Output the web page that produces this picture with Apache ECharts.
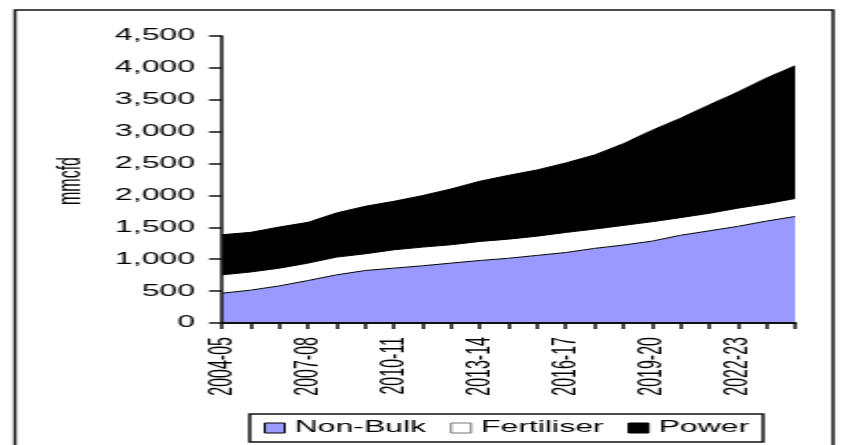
<!DOCTYPE html>
<html>
<head>
<meta charset="utf-8">
<script src="https://cdn.jsdelivr.net/npm/echarts@6/dist/echarts.min.js"></script>
<style>
html,body{margin:0;padding:0;background:#fff;overflow:hidden;}
#wrap{width:841px;height:445px;overflow:hidden;position:relative;}
#chart{width:421px;height:445px;transform-origin:0 0;transform:scaleX(1.99762);position:absolute;left:0;top:0;}
</style>
</head>
<body>
<div id="wrap"><div id="chart"></div></div>
<script>
const categories = ['2004-05','2005-06','2006-07','2007-08','2008-09','2009-10','2010-11','2011-12','2012-13','2013-14','2014-15','2015-16','2016-17','2017-18','2018-19','2019-20','2020-21','2021-22','2022-23','2023-24','2024-25'];
const nonBulk    = [467,515,582,666,755,823,860,897,939,980,1015,1060,1105,1170,1222,1283,1375,1445,1515,1598,1670];
const fertiliser = [288,285,278,273,278,262,288,293,288,299,300,302,315,302,308,304,277,275,285,272,282];
const power      = [629,621,645,639,693,745,760,808,876,944,1000,1038,1090,1163,1280,1433,1558,1700,1820,1970,2081];
const yTicks = {min:0, max:4500, interval:500};
const seriesNames = ['Non-Bulk','Fertiliser','Power'];
const unitLabel = 'mmcfd';

const S = 841/421;
const FONT = 'Liberation Sans, Arial, sans-serif';
const chart = echarts.init(document.getElementById('chart'), null, {renderer:'canvas', width:421, height:445});

const colors = ['#9999FF','#FFFFFF','#000000'];
const legendBorders = ['#000','#777','#000'];
const seriesData = [nonBulk, fertiliser, power];

chart.setOption({
  animation:false,
  backgroundColor:'#fff',
  textStyle:{fontFamily:FONT},
  grid:{left:222/S, right:(841-795)/S, top:36, bottom:122, containLabel:false},
  legend:{
    left:125, top:414,
    padding:[6,7,6,7],
    itemGap:12, itemWidth:10, itemHeight:10,
    icon:'rect',
    borderColor:'#111', borderWidth:1.5,
    textStyle:{fontFamily:FONT, fontSize:16, color:'#000'},
    data:seriesNames.map((n,i)=>({name:n, itemStyle:{color:colors[i], borderColor:legendBorders[i], borderWidth:1}}))
  },
  xAxis:{
    type:'category', data:categories, boundaryGap:false, z:5,
    axisLine:{lineStyle:{color:'#111', width:2}},
    axisTick:{show:true, interval:0, length:6, lineStyle:{color:'#111', width:1.5}},
    axisLabel:{interval:2, rotate:90, margin:14, fontSize:16, color:'#000', fontFamily:FONT},
    splitLine:{show:false}
  },
  yAxis:{
    type:'value', min:yTicks.min, max:yTicks.max, interval:yTicks.interval, z:5,
    axisLine:{show:true, lineStyle:{color:'#111', width:1.5}},
    axisTick:{show:true, length:6.5, lineStyle:{color:'#111', width:1.5}},
    axisLabel:{margin:13.5, fontSize:16, color:'#000', fontFamily:FONT, formatter:v=>v.toLocaleString('en-US')},
    splitLine:{show:false}
  },
  graphic:[
    {type:'rect', shape:{x:7.5, y:10, width:(833-15)/S, height:480}, style:{fill:'none', stroke:'#111', lineWidth:1.5}, z:10, silent:true},
    {type:'text', x:36, y:181, rotation:Math.PI/2, style:{text:unitLabel, fontSize:16, fontFamily:FONT, fill:'#000', align:'center', verticalAlign:'middle'}, z:10}
  ],
  series:seriesNames.map((n,i)=>({
    name:n, type:'line', stack:'total', data:seriesData[i],
    showSymbol:false, symbol:'none',
    lineStyle:{color:'#000', width:1},
    areaStyle:{color:colors[i], opacity:1},
    itemStyle:{color:colors[i]},
    z:2
  }))
});
</script>
</body>
</html>
